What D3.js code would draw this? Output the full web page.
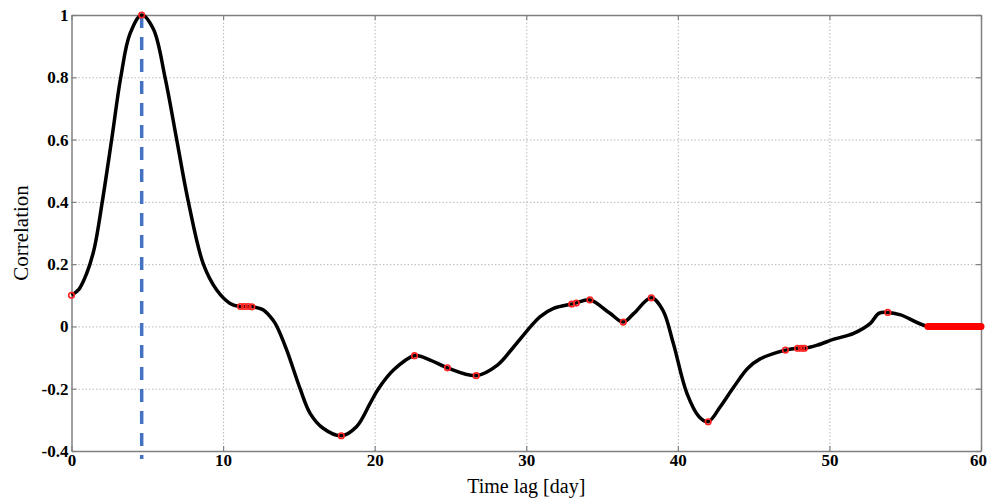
<!DOCTYPE html>
<html>
<head>
<meta charset="utf-8">
<script src="https://cdn.jsdelivr.net/npm/d3@7"></script>
<style>
  body { margin: 0; background: #fff; }
  .tick text { font-family: "Liberation Serif", "Times New Roman", serif; font-weight: bold; font-size: 17px; fill: #000; }
  .frame path.domain { stroke: #808080; stroke-width: 1.5; }
  .frame .tick line { stroke: #808080; stroke-width: 1.2; }
  .grid .tick line { stroke: #b8b8b8; stroke-width: 1; stroke-dasharray: 1.5,2; }
  .grid path.domain { display: none; }
</style>
</head>
<body>
<svg id="chart" width="988" height="499"></svg>
<script>
// correlation curve
const lagDays = [0, 0.5, 1.0, 1.5, 2.03, 2.65, 3.25, 3.86, 4.63, 5.4, 6.17, 6.94, 7.71, 8.7, 9.58,
  10.46, 11.1, 11.6, 12.0, 12.66, 13.3, 13.55, 14.2, 15.08, 15.74, 16.6, 17.8, 18.8, 19.7,
  20.25, 21.24, 22.63, 23.66, 24.8, 26.7, 28.1, 29.1, 30.3, 30.9, 31.8, 33.2, 34.2, 35.5,
  36.4, 37.1, 38.25, 39.0, 39.7, 40.6, 41.4, 42.0, 42.8, 43.7, 44.6, 45.4, 47.1, 47.9,
  48.35, 49.2, 50.3, 51.6, 52.7, 53.25, 53.85, 54.7, 56.5, 60];
const correlation = [0.10, 0.12, 0.17, 0.25, 0.40, 0.60, 0.80, 0.94, 1.00, 0.955, 0.80, 0.60, 0.40, 0.20, 0.117,
  0.074, 0.064, 0.064, 0.063, 0.053, 0.02, 0, -0.076, -0.2, -0.279, -0.327, -0.351, -0.322, -0.247,
  -0.2, -0.14, -0.094, -0.108, -0.133, -0.158, -0.124, -0.07, 0, 0.031, 0.058, 0.074, 0.085, 0.043,
  0.014, 0.042, 0.092, 0.053, -0.054, -0.215, -0.29, -0.306, -0.258, -0.194, -0.135, -0.105, -0.076, -0.07,
  -0.07, -0.06, -0.041, -0.022, 0.01, 0.042, 0.045, 0.037, 0, 0];

// red circles on the curve
const markerLags = [0, 4.63, 11.15, 11.4, 11.65, 11.9, 17.8, 22.63, 24.8, 26.7, 33.0, 33.3, 34.2,
  36.4, 38.25, 42.0, 47.1, 47.9, 48.15, 48.35, 53.85];
const markerValues = [0.10, 1.00, 0.064, 0.064, 0.064, 0.063, -0.351, -0.094, -0.133, -0.158, 0.072, 0.075, 0.085,
  0.014, 0.092, -0.306, -0.076, -0.07, -0.07, -0.07, 0.045];

// thick red run at the end
const tailLags = [56.5, 60];
const tailValues = [0, 0];

const peakLag = 4.63;

const xTicks = [0, 10, 20, 30, 40, 50, 60];
const yTicks = [-0.4, -0.2, 0, 0.2, 0.4, 0.6, 0.8, 1];

const margin = { top: 15, right: 7, bottom: 48, left: 71.5 },
  width = 988 - margin.left - margin.right,
  height = 499 - margin.top - margin.bottom;

const svg = d3.select("#chart");
const g = svg.append("g").attr("transform", `translate(${margin.left},${margin.top})`);

const x = d3.scaleLinear().domain([0, 60]).range([0, width]);
const y = d3.scaleLinear().domain([-0.4, 1]).range([height, 0]);
const fmt = d => String(+d.toFixed(1));

// grid
g.append("g").attr("class", "grid")
  .attr("transform", `translate(0,${height})`)
  .call(d3.axisBottom(x).tickValues(xTicks.slice(1, -1)).tickSize(-height).tickFormat(""));
g.append("g").attr("class", "grid")
  .call(d3.axisLeft(y).tickValues(yTicks.slice(1, -1)).tickSize(-width).tickFormat(""));

// frame with inward ticks
const xAxisG = g.append("g").attr("class", "frame")
  .attr("transform", `translate(0,${height})`)
  .call(d3.axisBottom(x).tickValues(xTicks).tickSizeInner(-5).tickSizeOuter(0).tickPadding(3).tickFormat(fmt));
// last label sits at the window edge, nudge it in
xAxisG.selectAll(".tick text").filter(d => d === 60).attr("dx", "-3");
g.append("g").attr("class", "frame")
  .call(d3.axisLeft(y).tickValues(yTicks).tickSizeInner(-5).tickSizeOuter(0).tickPadding(3).tickFormat(fmt));
g.append("g").attr("class", "frame")
  .call(d3.axisTop(x).tickValues(xTicks).tickSizeInner(-5).tickSizeOuter(0).tickFormat(""));
g.append("g").attr("class", "frame")
  .attr("transform", `translate(${width},0)`)
  .call(d3.axisRight(y).tickValues(yTicks).tickSizeInner(-5).tickSizeOuter(0).tickFormat(""));

// blue dashed lag line
g.append("line")
  .attr("x1", x(peakLag)).attr("x2", x(peakLag))
  .attr("y1", y(1)).attr("y2", height + 8)
  .attr("stroke", "#4472c4")
  .attr("stroke-width", 3.5)
  .attr("stroke-dasharray", "13,9");

// curve
const curve = lagDays.map((d, i) => [d, correlation[i]]);
const line = d3.line().x(d => x(d[0])).y(d => y(d[1])).curve(d3.curveCatmullRom.alpha(0.5));
g.append("path")
  .datum(curve)
  .attr("fill", "none")
  .attr("stroke", "#000")
  .attr("stroke-width", 3.5)
  .attr("stroke-linejoin", "round")
  .attr("d", line);

// red tail
g.append("path")
  .datum(tailLags.map((d, i) => [d, tailValues[i]]))
  .attr("fill", "none")
  .attr("stroke", "#ff0000")
  .attr("stroke-width", 7)
  .attr("stroke-linecap", "round")
  .attr("d", d3.line().x(d => x(d[0])).y(d => y(d[1])));

// markers
g.selectAll(".marker")
  .data(markerLags.map((d, i) => [d, markerValues[i]]))
  .enter().append("circle")
  .attr("class", "marker")
  .attr("cx", d => x(d[0]))
  .attr("cy", d => y(d[1]))
  .attr("r", 2.8)
  .attr("fill", "none")
  .attr("stroke", "#ff2020")
  .attr("stroke-width", 1.6);

// axis labels
svg.append("text")
  .attr("x", margin.left + width / 2)
  .attr("y", 493)
  .attr("text-anchor", "middle")
  .style("font-family", "'Liberation Serif', 'Times New Roman', serif")
  .style("font-size", "20px")
  .text("Time lag [day]");

svg.append("text")
  .attr("transform", `translate(28,${margin.top + height / 2}) rotate(-90)`)
  .attr("text-anchor", "middle")
  .style("font-family", "'Liberation Serif', 'Times New Roman', serif")
  .style("font-size", "21px")
  .text("Correlation");
</script>
</body>
</html>
